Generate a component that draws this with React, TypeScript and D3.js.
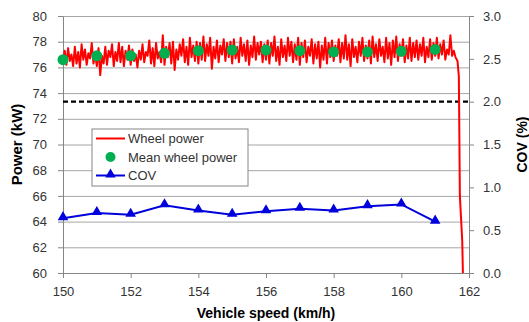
import React, { useRef, useEffect } from 'react';
import * as d3 from 'd3';

// wheel power trace, sampled every 0.05 km/h from 150.00 to 161.50
const wheelStart = 150;
const wheelStep = 0.05;
const wheelPower = [
  76.4, 77.3, 76.2, 77.5, 76.5, 77.0, 76.1, 77.6, 76.3, 77.2, 76.0, 77.8, 76.6, 77.4, 76.2, 77.1, 76.7, 77.9, 76.3, 77.0,
  76.1, 77.5, 75.4, 76.9, 76.3, 77.6, 76.2, 77.3, 76.8, 77.8, 76.1, 77.2, 76.5, 77.9, 76.4, 77.6, 76.1, 77.3, 76.6, 77.7,
  76.2, 77.4, 76.5, 77.0, 76.0, 77.3, 76.6, 77.8, 76.4, 77.2, 76.9, 78.1, 76.3, 77.5, 76.1, 77.9, 76.7, 77.2, 76.4, 78.5,
  76.2, 77.6, 76.8, 77.9, 76.3, 78.0, 75.8, 77.4, 76.6, 77.8, 76.9, 78.2, 76.4, 77.6, 76.2, 78.3, 76.8, 77.7, 76.5, 78.0,
  76.3, 77.9, 76.6, 78.4, 76.5, 77.8, 76.9, 78.3, 75.9, 77.6, 76.7, 78.1, 76.4, 77.7, 77.0, 78.2, 76.5, 77.9, 76.8, 78.0,
  76.3, 78.2, 76.7, 77.6, 76.4, 78.3, 76.9, 77.8, 76.5, 78.1, 76.2, 77.7, 76.8, 78.4, 76.6, 77.9, 77.0, 78.0, 76.4, 77.8,
  76.6, 78.1, 76.3, 77.9, 76.9, 78.4, 76.5, 77.6, 76.2, 78.2, 76.8, 77.7, 76.5, 78.3, 76.9, 78.0, 76.4, 77.8, 76.6, 78.3,
  76.2, 77.9, 76.8, 78.1, 76.4, 77.6, 76.9, 78.2, 76.3, 77.8, 76.7, 78.0, 76.0, 77.7, 76.6, 78.3, 76.3, 77.9, 76.8, 78.1,
  76.5, 77.7, 76.9, 78.2, 76.4, 77.9, 76.7, 78.5, 76.6, 77.8, 76.1, 78.2, 76.8, 77.6, 76.4, 78.0, 76.9, 78.3, 76.5, 77.7,
  76.7, 78.1, 76.3, 78.4, 76.8, 77.8, 76.5, 78.2, 76.9, 77.6, 76.4, 78.3, 76.7, 77.9, 76.2, 78.1, 76.8, 78.4, 76.5, 77.8,
  76.9, 78.2, 76.4, 77.7, 76.7, 78.3, 76.5, 77.9, 76.8, 78.1, 76.6, 77.8, 76.9, 78.3, 76.4, 77.6, 76.8, 78.2, 76.6, 77.9,
  76.9, 78.3, 76.7, 77.8, 77.0, 78.1, 76.6, 77.4, 77.0, 78.5, 76.9,
];
// the drop at the end of the run
const tailSpeed = [161.55, 161.6, 161.66, 161.7, 161.73, 161.8, 161.82];
const tailPower = [77.3, 76.8, 76.5, 75.3, 66.0, 62.5, 60.0];

const meanSpeed = [150, 151, 152, 153, 154, 155, 156, 157, 158, 159, 160, 161];
const meanPower = [76.6, 76.9, 76.9, 77.1, 77.3, 77.35, 77.35, 77.3, 77.2, 77.2, 77.25, 77.4];
const cov = [0.64, 0.70, 0.68, 0.79, 0.73, 0.68, 0.72, 0.75, 0.73, 0.78, 0.80, 0.60];

const covLimit = 2.0;

const speedTicks = [150, 152, 154, 156, 158, 160, 162];
const powerTicks = [60, 62, 64, 66, 68, 70, 72, 74, 76, 78, 80];
const covTicks = [0, 0.5, 1, 1.5, 2, 2.5, 3];

const legendItems = ['Wheel power', 'Mean wheel power', 'COV'];

const App = () => {
  const svgRef = useRef<SVGSVGElement>(null);

  useEffect(() => {
    const svg = d3.select(svgRef.current);
    svg.selectAll('*').remove();

    const width = 529;
    const height = 322;
    const margin = { top: 16, right: 60, bottom: 49, left: 63 };
    const font = 'Liberation Sans, Arial, sans-serif';
    const textColor = '#333';

    svg.attr('width', width).attr('height', height);

    const innerWidth = width - margin.left - margin.right;
    const innerHeight = height - margin.top - margin.bottom;

    const x = d3.scaleLinear().domain([150, 162]).range([0, innerWidth]);
    const y = d3.scaleLinear().domain([60, 80]).range([innerHeight, 0]);
    const y2 = d3.scaleLinear().domain([0, 3]).range([innerHeight, 0]);

    const g = svg.append('g').attr('transform', `translate(${margin.left},${margin.top})`);

    // gridlines
    g.append('g')
      .call(d3.axisLeft(y).tickValues(powerTicks).tickSize(-innerWidth).tickFormat(() => ''))
      .call(a => a.select('.domain').remove())
      .call(a => a.selectAll('line').attr('stroke', '#a6a6a6'));

    // left axis
    const left = g.append('g')
      .call(d3.axisLeft(y).tickValues(powerTicks).tickSize(5).tickPadding(11).tickSizeOuter(0));
    left.select('.domain').attr('stroke', '#868686');
    left.selectAll('line').attr('stroke', '#868686');
    left.selectAll('text').attr('font-family', font).attr('font-size', 13).attr('fill', textColor);

    // bottom axis
    const bottom = g.append('g')
      .attr('transform', `translate(0,${innerHeight})`)
      .call(d3.axisBottom(x).tickValues(speedTicks).tickSize(5).tickPadding(9).tickSizeOuter(0));
    bottom.select('.domain').attr('stroke', '#868686');
    bottom.selectAll('line').attr('stroke', '#868686');
    bottom.selectAll('text').attr('font-family', font).attr('font-size', 13).attr('fill', textColor);

    // right axis
    const right = g.append('g')
      .attr('transform', `translate(${innerWidth},0)`)
      .call(d3.axisRight(y2).tickValues(covTicks).tickSize(5).tickPadding(9).tickSizeOuter(0).tickFormat(d3.format('.1f')));
    right.select('.domain').attr('stroke', '#868686');
    right.selectAll('line').attr('stroke', '#868686');
    right.selectAll('text').attr('font-family', font).attr('font-size', 13).attr('fill', textColor);

    // COV limit
    g.append('line')
      .attr('x1', 0).attr('x2', innerWidth)
      .attr('y1', y2(covLimit)).attr('y2', y2(covLimit))
      .attr('stroke', '#000').attr('stroke-width', 2.2).attr('stroke-dasharray', '5,3');

    // wheel power trace
    const trace: [number, number][] = wheelPower.map((v, i) => [wheelStart + i * wheelStep, v]);
    tailSpeed.forEach((s, i) => trace.push([s, tailPower[i]]));
    const line = d3.line<[number, number]>().x(d => x(d[0])).y(d => y(d[1]));
    g.append('path')
      .attr('d', line(trace))
      .attr('fill', 'none').attr('stroke', '#ff0000').attr('stroke-width', 2).attr('stroke-linejoin', 'round');

    // mean wheel power
    g.selectAll('.mean')
      .data(meanSpeed)
      .enter().append('circle')
      .attr('cx', d => x(d))
      .attr('cy', (d, i) => y(meanPower[i]))
      .attr('r', 5.5)
      .attr('fill', '#00b050');

    // COV
    const covLine = d3.line<number>().x(d => x(d)).y((d, i) => y2(cov[i]));
    g.append('path')
      .attr('d', covLine(meanSpeed))
      .attr('fill', 'none').attr('stroke', '#0000dd').attr('stroke-width', 2);
    const tri = d3.symbol().type(d3.symbolTriangle).size(48);
    g.selectAll('.cov')
      .data(meanSpeed)
      .enter().append('path')
      .attr('d', tri())
      .attr('transform', (d, i) => `translate(${x(d)},${y2(cov[i]) - 1})`)
      .attr('fill', '#0000dd');

    // legend
    const lg = svg.append('g').attr('transform', 'translate(92,129)');
    lg.append('rect')
      .attr('width', 156).attr('height', 57)
      .attr('fill', '#fff').attr('stroke', '#868686');
    legendItems.forEach((name, i) => {
      const ly = 9.5 + i * 18.5;
      if (i === 0) {
        lg.append('line').attr('x1', 4).attr('x2', 33).attr('y1', ly).attr('y2', ly)
          .attr('stroke', '#ff0000').attr('stroke-width', 2);
      } else if (i === 1) {
        lg.append('circle').attr('cx', 18.5).attr('cy', ly).attr('r', 5).attr('fill', '#00b050');
      } else {
        lg.append('line').attr('x1', 4).attr('x2', 33).attr('y1', ly).attr('y2', ly)
          .attr('stroke', '#0000dd').attr('stroke-width', 2);
        lg.append('path').attr('d', tri()).attr('transform', `translate(18.5,${ly - 1})`).attr('fill', '#0000dd');
      }
      lg.append('text')
        .attr('x', 36).attr('y', ly).attr('dy', '0.35em')
        .attr('font-family', font).attr('font-size', 13).attr('fill', textColor)
        .text(name);
    });

    // axis titles
    svg.append('text')
      .attr('x', margin.left + innerWidth / 2).attr('y', 313)
      .attr('text-anchor', 'middle').attr('dy', '0.35em')
      .attr('font-family', font).attr('font-size', 14).attr('font-weight', 'bold').attr('fill', '#000')
      .text('Vehicle speed (km/h)');
    svg.append('text')
      .attr('transform', `translate(17,${margin.top + innerHeight / 2}) rotate(-90)`)
      .attr('text-anchor', 'middle').attr('dy', '0.35em')
      .attr('font-family', font).attr('font-size', 15).attr('font-weight', 'bold').attr('fill', '#000')
      .text('Power (kW)');
    svg.append('text')
      .attr('transform', `translate(522,${margin.top + innerHeight / 2}) rotate(-90)`)
      .attr('text-anchor', 'middle').attr('dy', '0.35em')
      .attr('font-family', font).attr('font-size', 14).attr('font-weight', 'bold').attr('fill', '#000')
      .text('COV (%)');
  }, []);

  return (
    <div style={{ position: 'absolute', left: 0, top: 0, width: '529px', height: '322px', background: '#fff' }}>
      <svg ref={svgRef} style={{ display: 'block' }}></svg>
    </div>
  );
};

export default App;
